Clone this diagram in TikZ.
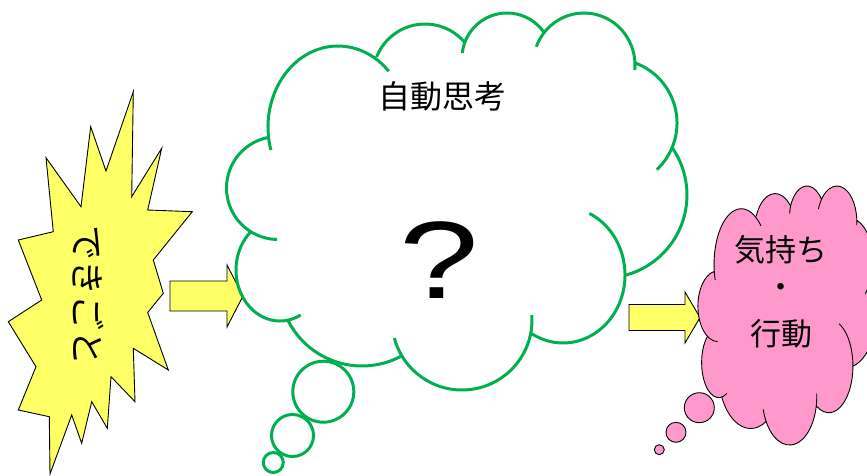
\documentclass[tikz,border=0pt]{standalone}
\usepackage{fontspec}
\setmainfont{Liberation Sans}
\newfontfamily\jp{Noto Sans CJK JP}
\definecolor{cloudgreen}{HTML}{00B050}
\definecolor{burstyellow}{HTML}{FFFF66}
\definecolor{thoughtpink}{HTML}{FF99CC}
\begin{document}
\begin{tikzpicture}[x=1pt,y=1pt,
  greenline/.style={draw=cloudgreen, line width=3pt},
  inkline/.style={draw=black, line width=0.9pt},
  blockarrow/.style={fill=burstyellow, draw=black, line width=0.9pt, line join=miter},
  jptext/.style={font=\jp\fontsize{#1}{#1}\selectfont, inner sep=0pt}]
\useasboundingbox (0,0) rectangle (867,475);
\def\cloudlobes{338/348/70/81/196.5/43.5, 425/399/52/52/158.4/40.4, 507/417/45/45/173.6/33.4, 584/410/51/52/159.4/-5.5, 613/352/64/64/70/-46.9, 604/280/83/83/35.2/-74.7, 563/200/62/68/64.8/-120.4, 462/155/70/70/4/-165, 362/192/83/83/-61/-153.4, 280/205/44/51/-62/-227, 278/287/51.5/51.5/-91/-258}

% starburst
\filldraw[fill=burstyellow, draw=black, line width=0.9pt, line join=miter]
 (133.3,383.3) -- (131.7,278.3) -- (161.7,326.7) -- (147.7,265) -- (192.3,263.3) -- (153.3,215) -- (163.3,181.7) -- (147.7,162.5) -- (168.3,105) -- (133.3,126.7) -- (135,73.3) -- (111,98.3) -- (107.3,46.7) -- (91.7,73.3) -- (81.7,31.7) -- (71.7,60) -- (50,1) -- (49.3,58.3) -- (18.3,65) -- (36,108.3) -- (8.3,153.3) -- (41.7,175) -- (18.3,235) -- (53.3,243.3) -- (46,317.3) -- (81,268.3) -- (90.7,348.3) -- (106,304) -- cycle;
\node[jptext=35, rotate=-90] (event) at (88,180) {できごと};

% block arrows
\filldraw[blockarrow] (170,194) -- (227,194) -- (227,210) -- (243,179) -- (227,148) -- (227,164) -- (170,164) -- cycle;
\filldraw[blockarrow] (629,170.5) -- (685,170.5) -- (685,183) -- (700,157.5) -- (685,132) -- (685,144.5) -- (629,144.5) -- cycle;

% green thought cloud
\draw[greenline] foreach \cx/\cy/\rx/\ry/\sa/\ea in \cloudlobes {(\cx,\cy) ++(\sa:\rx pt and \ry pt) arc[start angle=\sa, end angle=\ea, x radius=\rx pt, y radius=\ry pt]};
\draw[greenline] (323.3,83.3) circle[radius=30.5pt];
\draw[greenline] (292.5,39.5) circle[radius=21pt];
\draw[greenline] (273.3,12.5) circle[radius=10pt];
\node[jptext=32] (auto) at (442,379) {自動思考};
\node[font=\fontsize{110}{110}\selectfont, inner sep=0pt, xscale=1.3] (question) at (439,215) {?};

% pink cloud
\begin{scope}
\clip (0,0) rectangle (867,475);
\begin{scope}[shift={(609.8,-28.4)}, xscale=0.389, yscale=0.687]
\fill[thoughtpink] foreach \cx/\cy/\rx/\ry/\sa/\ea in \cloudlobes {(\cx,\cy) ellipse[x radius=\rx pt, y radius=\ry pt]};
\fill[thoughtpink] (338,348) -- (425,399) -- (507,417) -- (584,410) -- (613,352) -- (604,280) -- (563,200) -- (462,155) -- (362,192) -- (280,205) -- (278,287) -- cycle;
\draw[inkline] foreach \cx/\cy/\rx/\ry/\sa/\ea in \cloudlobes {(\cx,\cy) ++(\sa:\rx pt and \ry pt) arc[start angle=\sa, end angle=\ea, x radius=\rx pt, y radius=\ry pt]};
\end{scope}
\end{scope}
\filldraw[fill=thoughtpink, inkline] (699.3,67.3) circle[radius=15pt];
\filldraw[fill=thoughtpink, inkline] (676,42.7) circle[radius=10pt];
\filldraw[fill=thoughtpink, inkline] (659.3,25.3) circle[radius=5pt];
\node[jptext=31] (feel) at (781,225) {気持ち};
\node[jptext=31] (dot) at (781,184) {・};
\node[jptext=31] (act) at (781,141) {行動};
\end{tikzpicture}
\end{document}
